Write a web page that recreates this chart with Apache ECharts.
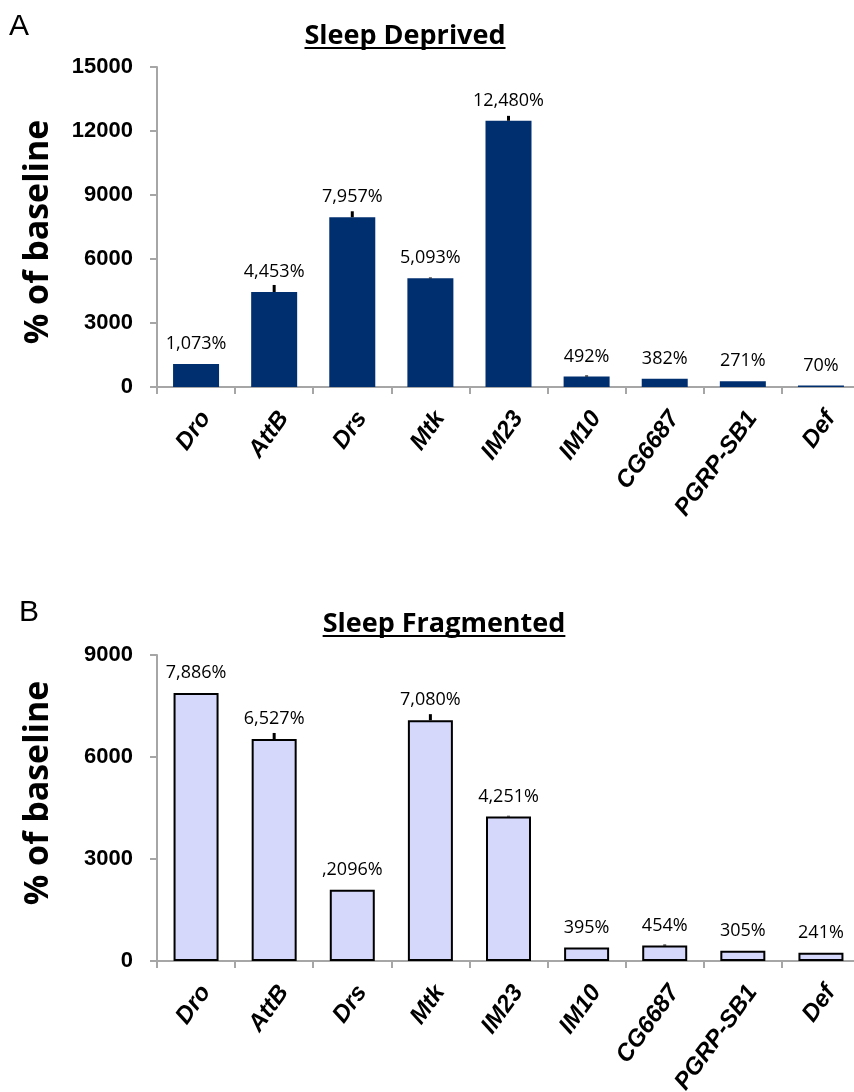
<!DOCTYPE html>
<html>
<head>
<meta charset="utf-8">
<script src="https://cdn.jsdelivr.net/npm/echarts@6/dist/echarts.min.js"></script>
<style>
html,body{margin:0;padding:0;background:#fff;}
#c{width:854px;height:1092px;}
</style>
</head>
<body>
<div id="c"></div>
<script>
// ---- data ----
var categories = ['Dro', 'AttB', 'Drs', 'Mtk', 'IM23', 'IM10', 'CG6687', 'PGRP-SB1', 'Def'];

var deprivedValues = [1073, 4453, 7957, 5093, 12480, 492, 382, 271, 70];
var deprivedErrors = [0, 330, 280, 40, 230, 50, 0, 0, 0];
var deprivedLabels = ['1,073%', '4,453%', '7,957%', '5,093%', '12,480%', '492%', '382%', '271%', '70%'];

var fragmentedValues = [7886, 6527, 2096, 7080, 4251, 395, 454, 305, 241];
var fragmentedErrors = [0, 180, 0, 180, 20, 0, 30, 0, 0];
var fragmentedLabels = ['7,886%', '6,527%', ',2096%', '7,080%', '4,251%', '395%', '454%', '305%', '241%'];

var ticksDeprived = [0, 3000, 6000, 9000, 12000, 15000];
var ticksFragmented = [0, 3000, 6000, 9000];

// ---- chart ----
var chart = echarts.init(document.getElementById('c'), null, {renderer: 'canvas'});

var axisGray = '#A6A6A6';
var labelFont = '"Open Sans", sans-serif';

function xAxisCfg(gridIndex) {
  return {
    type: 'category', gridIndex: gridIndex, data: categories,
    axisLine: {lineStyle: {color: axisGray, width: 2}},
    axisTick: {show: true, alignWithLabel: false, length: 7, lineStyle: {color: axisGray, width: 2}},
    axisLabel: {
      interval: 0, rotate: 54, margin: 20, verticalAlign: 'top',
      fontFamily: 'Liberation Sans', fontWeight: 'bold', fontStyle: 'italic',
      fontSize: 24, color: '#000'
    }
  };
}
function yAxisCfg(gridIndex, ticks) {
  return {
    type: 'value', gridIndex: gridIndex,
    min: ticks[0], max: ticks[ticks.length - 1], interval: ticks[1] - ticks[0],
    axisLine: {show: true, lineStyle: {color: axisGray, width: 2}},
    axisTick: {show: true, length: 7, lineStyle: {color: axisGray, width: 2}},
    splitLine: {show: false},
    axisLabel: {
      margin: 24, fontFamily: 'Liberation Sans', fontWeight: 'bold',
      fontSize: 22, color: '#000',
      formatter: function (v) { return String(v); }
    }
  };
}

function errorSeries(idx, values, errors) {
  var data = values.map(function (v, i) { return [i, v, errors[i]]; });
  return {
    type: 'custom', xAxisIndex: idx, yAxisIndex: idx, z: 5,
    data: data,
    renderItem: function (params, api) {
      var i = api.value(0), v = api.value(1), e = api.value(2);
      if (!e) return null;
      var p0 = api.coord([i, v]);
      var p1 = api.coord([i, v + e]);
      return {
        type: 'line',
        shape: {x1: p0[0], y1: p0[1], x2: p1[0], y2: p1[1]},
        style: {stroke: '#000', lineWidth: 3}
      };
    }
  };
}

function barSeries(idx, values, labels, style) {
  return {
    type: 'bar', xAxisIndex: idx, yAxisIndex: idx,
    data: values, barWidth: style.barWidth,
    itemStyle: style.itemStyle,
    label: {
      show: true, position: 'top', distance: 11,
      fontFamily: labelFont, fontSize: 18, color: '#000',
      formatter: function (p) { return labels[p.dataIndex]; }
    },
    z: 2
  };
}

function measure(text, font) {
  var cv = document.createElement('canvas').getContext('2d');
  cv.font = font;
  return cv.measureText(text).width;
}

var titleFont = 'bold 27px "Open Sans"';
var tA = 'Sleep Deprived', tB = 'Sleep Fragmented';
var wA = measure(tA, titleFont), wB = measure(tB, titleFont);
var cxA = 405, cxB = 444;
var nameFont = 'bold 34px "Open Sans"';

var option = {
  animation: false,
  backgroundColor: '#fff',
  grid: [
    {left: 157, top: 67, width: 703, height: 320, containLabel: false, outerBoundsMode: 'none'},
    {left: 157, top: 655, width: 703, height: 306, containLabel: false, outerBoundsMode: 'none'}
  ],
  xAxis: [xAxisCfg(0), xAxisCfg(1)],
  yAxis: [yAxisCfg(0, ticksDeprived), yAxisCfg(1, ticksFragmented)],
  series: [
    barSeries(0, deprivedValues, deprivedLabels, {
      barWidth: 46, itemStyle: {color: '#002F6F'}
    }),
    errorSeries(0, deprivedValues, deprivedErrors),
    barSeries(1, fragmentedValues, fragmentedLabels, {
      barWidth: 45, itemStyle: {color: '#D5D8FB', borderColor: '#000', borderWidth: 2}
    }),
    errorSeries(1, fragmentedValues, fragmentedErrors)
  ],
  graphic: [
    {type: 'text', left: 9, top: 12, style: {text: 'A', font: '30px "Liberation Sans"', fill: '#000'}},
    {type: 'text', left: 19, top: 598, style: {text: 'B', font: '30px "Liberation Sans"', fill: '#000'}},
    {type: 'text', x: cxA, y: 36, style: {text: tA, font: titleFont, fill: '#000', align: 'center', verticalAlign: 'middle'}},
    {type: 'line', shape: {x1: cxA - wA / 2, y1: 48, x2: cxA + wA / 2, y2: 48}, style: {stroke: '#000', lineWidth: 2}},
    {type: 'text', x: cxB, y: 624, style: {text: tB, font: titleFont, fill: '#000', align: 'center', verticalAlign: 'middle'}},
    {type: 'line', shape: {x1: cxB - wB / 2, y1: 636, x2: cxB + wB / 2, y2: 636}, style: {stroke: '#000', lineWidth: 2}},
    {type: 'text', x: 38, y: 232, rotation: Math.PI / 2,
      style: {text: '% of baseline', font: nameFont, fill: '#000', align: 'center', verticalAlign: 'middle'}},
    {type: 'text', x: 38, y: 793, rotation: Math.PI / 2,
      style: {text: '% of baseline', font: nameFont, fill: '#000', align: 'center', verticalAlign: 'middle'}}
  ]
};
chart.setOption(option);
</script>
</body>
</html>
